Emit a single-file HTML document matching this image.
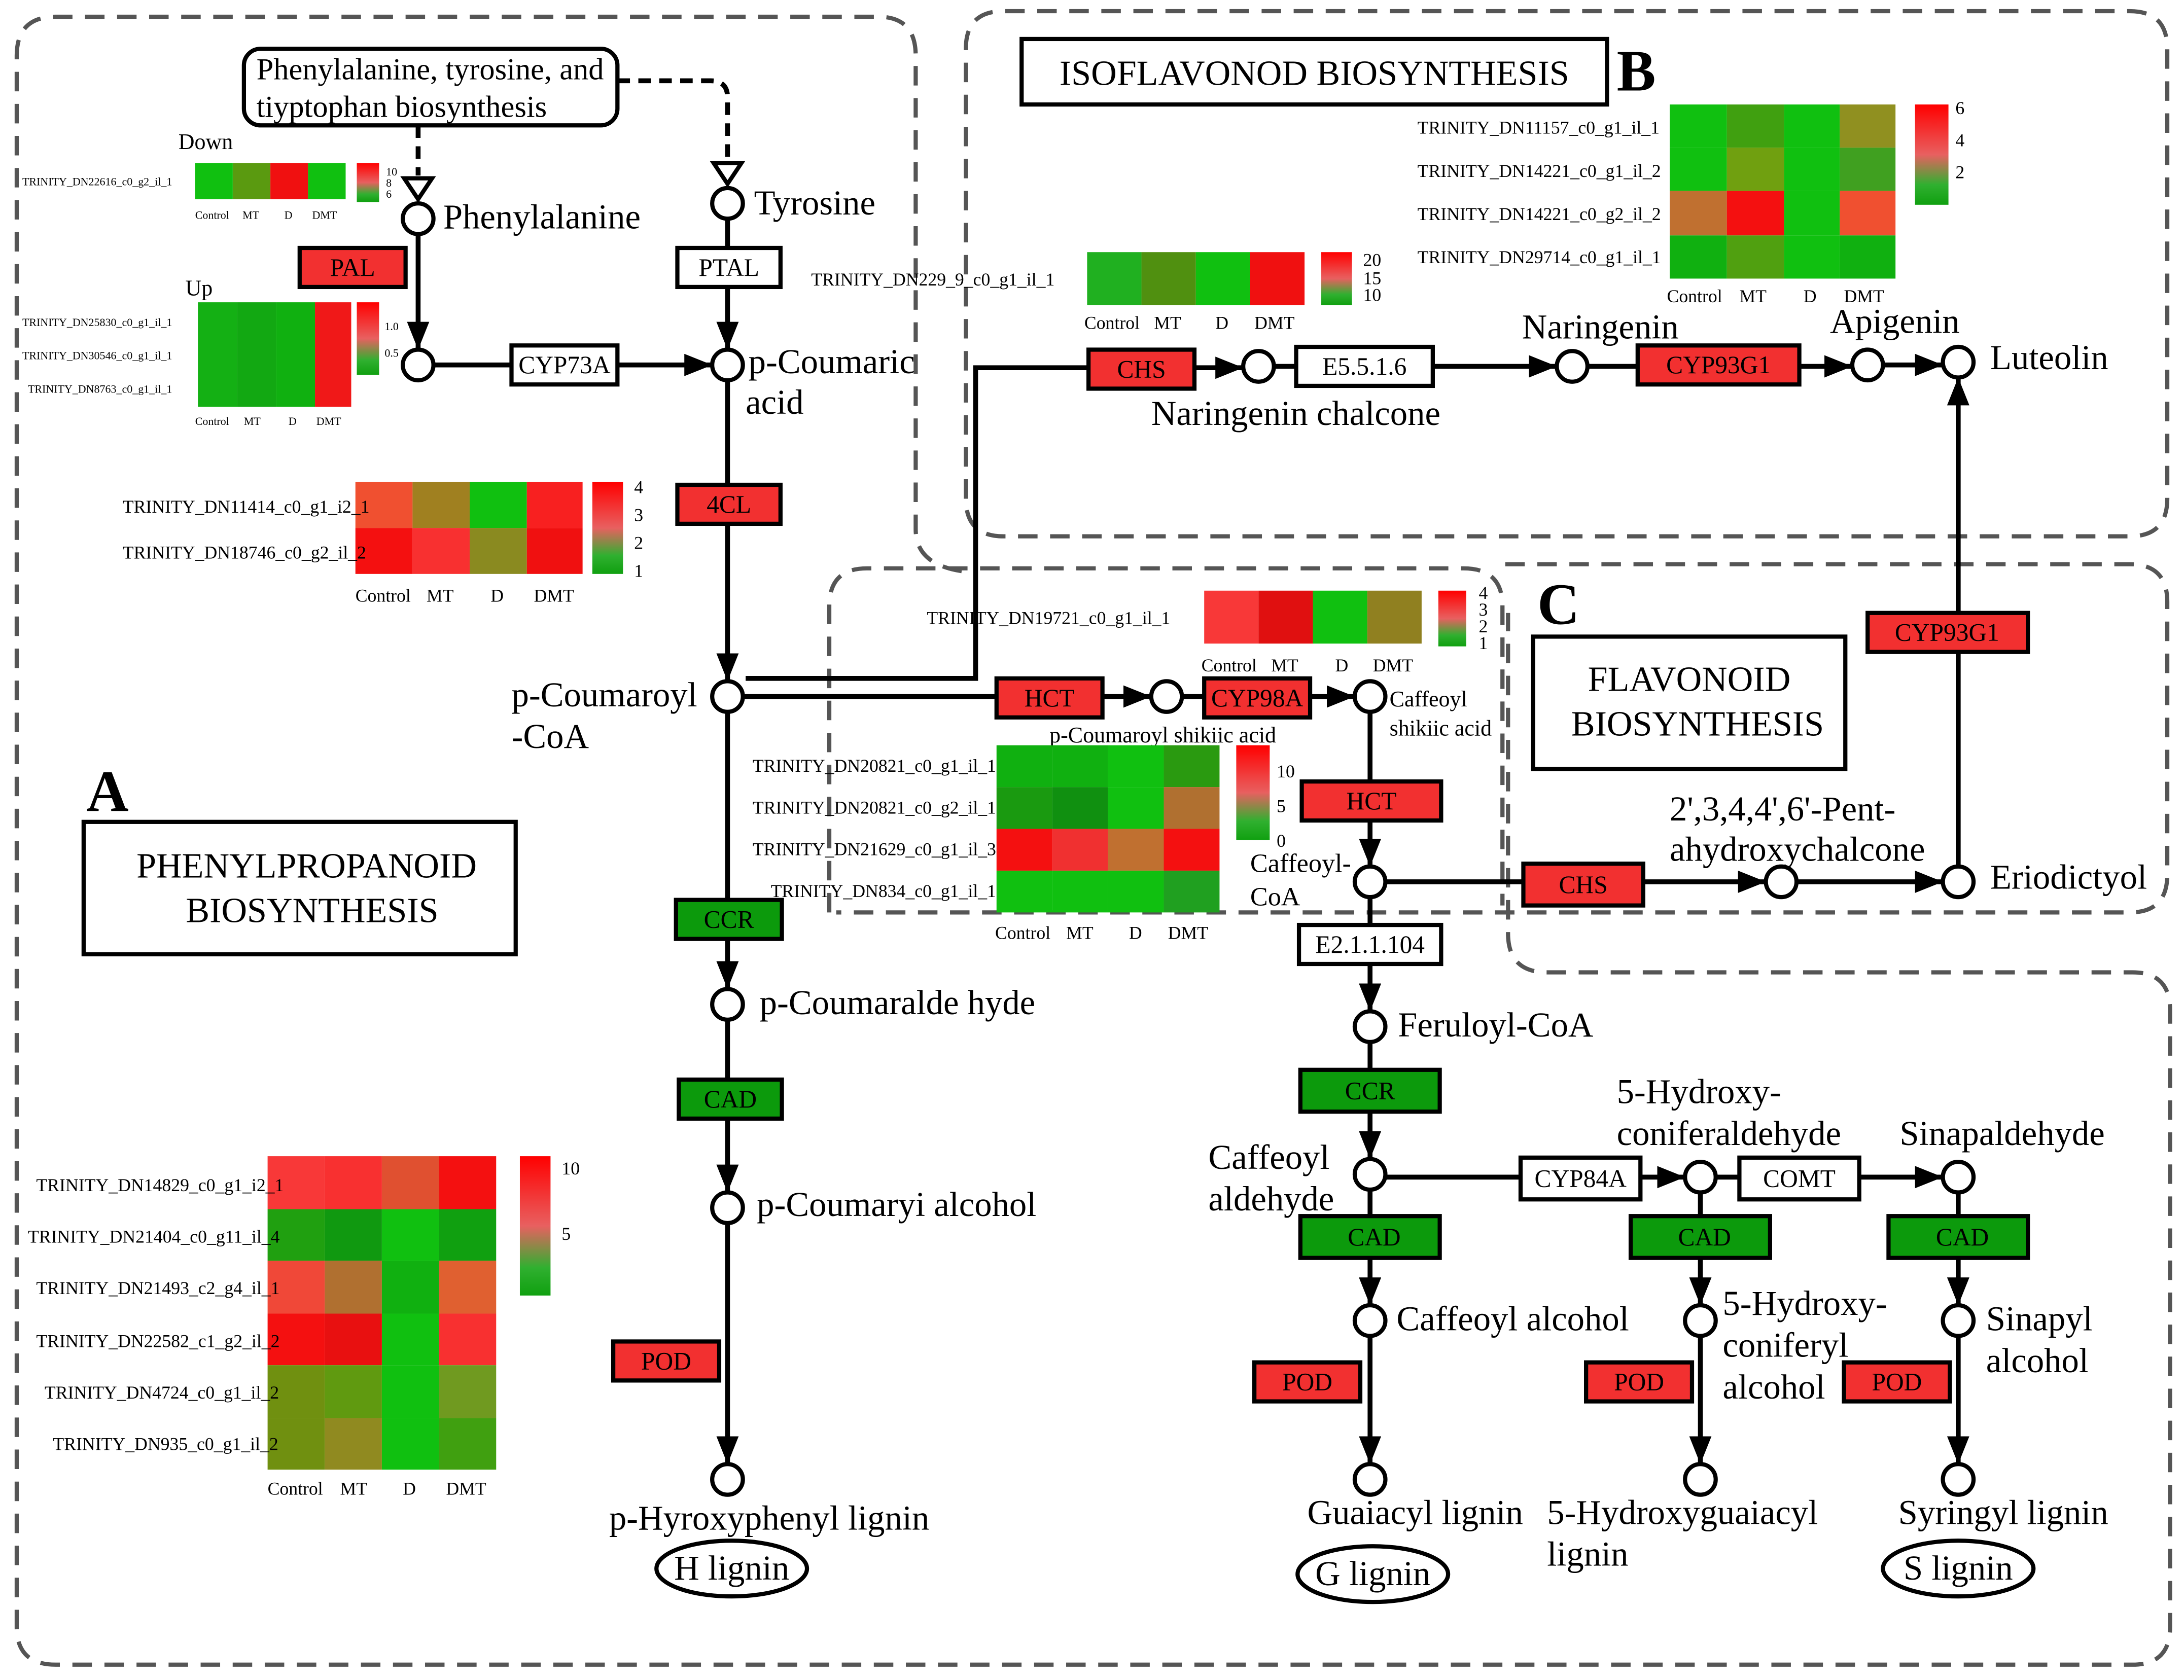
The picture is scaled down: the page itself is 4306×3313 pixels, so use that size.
<!DOCTYPE html>
<html><head><meta charset="utf-8"><style>html,body{margin:0;padding:0;background:#fff}svg{display:block}</style></head><body>
<svg width="4306" height="3313" viewBox="0 0 1567 1206" preserveAspectRatio="none" xmlns="http://www.w3.org/2000/svg" font-family="Liberation Serif, serif">
<defs>
<marker id="ar" markerWidth="20" markerHeight="16" refX="20" refY="8" orient="auto" markerUnits="userSpaceOnUse" viewBox="0 0 20 16"><path d="M0,0 L20,8 L0,16 z" fill="#000"/></marker>
<linearGradient id="cb" x1="0" y1="0" x2="0" y2="1"><stop offset="0" stop-color="#ff0000"/><stop offset="0.5" stop-color="#e86060"/><stop offset="0.8" stop-color="#30b030"/><stop offset="1" stop-color="#10a010"/></linearGradient>
</defs>
<g fill="none" stroke="#555" stroke-width="3" stroke-dasharray="14,9">
<path d="M690,410 Q657,405 657,380 V40 Q657,12 630,12 H40 Q12,12 12,40 V1168 Q12,1195 40,1195 H1530 Q1557,1195 1557,1168 V725 Q1557,698 1530,698 H1110 Q1082,698 1082,670 V440"/>
<path d="M693,358 V35 Q693,8 720,8 H1528 Q1555,8 1555,35 V358 Q1555,385 1528,385 H720 Q693,385 693,358"/>
<path d="M595,655 V435 Q595,408 622,408 H1050 Q1078,408 1078,435 V650"/>
<path d="M1080,405 H1528 Q1555,405 1555,432 V628 Q1555,655 1528,655 H600"/>
</g>
<g stroke="#000" stroke-width="3.5" fill="none">
<path d="M300,90 V126" stroke-dasharray="9,6"/>
<path d="M443,58 H510 Q522,58 522,70 V116" stroke-dasharray="9,6"/>
<path d="M300,168 V251" marker-end="url(#ar)"/>
<path d="M311,262 H511" marker-end="url(#ar)"/>
<path d="M522,157 V251" marker-end="url(#ar)"/>
<path d="M522,273 V489" marker-end="url(#ar)"/>
<path d="M522,511 V710" marker-end="url(#ar)"/>
<path d="M522,732 V856" marker-end="url(#ar)"/>
<path d="M522,878 V1051" marker-end="url(#ar)"/>
<path d="M533,500 H826" marker-end="url(#ar)"/>
<path d="M848,500 H972" marker-end="url(#ar)"/>
<path d="M535,487 H700 V264 H892" marker-end="url(#ar)"/>
<path d="M914,263 H1117" marker-end="url(#ar)"/>
<path d="M1139,263 H1329" marker-end="url(#ar)"/>
<path d="M1351,262 H1394" marker-end="url(#ar)"/>
<path d="M983,511 V622" marker-end="url(#ar)"/>
<path d="M994,633 H1267" marker-end="url(#ar)"/>
<path d="M1289,633 H1394" marker-end="url(#ar)"/>
<path d="M1405,621 V271" marker-end="url(#ar)"/>
<path d="M983,645 V726" marker-end="url(#ar)"/>
<path d="M983,749 V832" marker-end="url(#ar)"/>
<path d="M994,845 H1209" marker-end="url(#ar)"/>
<path d="M1231,845 H1394" marker-end="url(#ar)"/>
<path d="M983,855 V937" marker-end="url(#ar)"/>
<path d="M1220,857 V937" marker-end="url(#ar)"/>
<path d="M1405,857 V937" marker-end="url(#ar)"/>
<path d="M983,960 V1051" marker-end="url(#ar)"/>
<path d="M1220,960 V1051" marker-end="url(#ar)"/>
<path d="M1405,960 V1051" marker-end="url(#ar)"/>
</g>
<g fill="#fff" stroke="#000" stroke-width="3">
<path d="M290,128 H310 L300,143 z"/><path d="M512,117 H532 L522,132 z"/>
<circle cx="300" cy="157" r="11"/><circle cx="522" cy="146" r="11"/><circle cx="300" cy="262" r="11"/><circle cx="522" cy="262" r="11"/>
<circle cx="522" cy="500" r="11"/><circle cx="837" cy="500" r="11"/><circle cx="983" cy="500" r="11"/><circle cx="983" cy="633" r="11"/>
<circle cx="983" cy="737" r="11"/><circle cx="983" cy="843" r="11"/><circle cx="983" cy="948" r="11"/><circle cx="983" cy="1062" r="11"/>
<circle cx="1220" cy="845" r="11"/><circle cx="1220" cy="948" r="11"/><circle cx="1220" cy="1062" r="11"/>
<circle cx="1405" cy="845" r="11"/><circle cx="1405" cy="948" r="11"/><circle cx="1405" cy="1062" r="11"/>
<circle cx="522" cy="721" r="11"/><circle cx="522" cy="867" r="11"/><circle cx="522" cy="1062" r="11"/>
<circle cx="903" cy="263" r="11"/><circle cx="1128" cy="263" r="11"/><circle cx="1340" cy="262" r="11"/><circle cx="1405" cy="260" r="11"/>
<circle cx="1278" cy="633" r="11"/><circle cx="1405" cy="633" r="11"/>
<rect x="175" y="35" width="268" height="55" rx="12"/>
<rect x="367" y="248" width="76" height="28"/><rect x="486" y="178" width="74" height="28"/>
<rect x="930" y="249" width="98" height="28"/><rect x="932" y="664" width="102" height="28"/>
<rect x="1091" y="831" width="86" height="30"/><rect x="1248" y="831" width="86" height="30"/>
<rect x="733" y="28" width="420" height="47"/><rect x="1100" y="457" width="224" height="95"/><rect x="60" y="590" width="310" height="95"/>
<ellipse cx="525" cy="1126" rx="54" ry="20"/><ellipse cx="985" cy="1130" rx="54" ry="20"/><ellipse cx="1405" cy="1126" rx="54" ry="20"/>
</g>
<g fill="#f23030" stroke="#000" stroke-width="3">
<rect x="215" y="178" width="76" height="28"/><rect x="486" y="348" width="74" height="28"/><rect x="440" y="963" width="76" height="28"/>
<rect x="715" y="487" width="76" height="28"/><rect x="864" y="487" width="76" height="28"/><rect x="781" y="251" width="76" height="28"/>
<rect x="1175" y="248" width="116" height="28"/><rect x="934" y="561" width="100" height="28"/><rect x="1093" y="620" width="86" height="30"/>
<rect x="1340" y="440" width="115" height="28"/><rect x="900" y="978" width="76" height="28"/><rect x="1138" y="978" width="76" height="28"/><rect x="1323" y="978" width="76" height="28"/>
</g>
<g fill="#0c9a0c" stroke="#000" stroke-width="3">
<rect x="485" y="646" width="76" height="28"/><rect x="487" y="775" width="74" height="28"/><rect x="933" y="768" width="100" height="30"/>
<rect x="933" y="873" width="100" height="30"/><rect x="1170" y="873" width="100" height="30"/><rect x="1355" y="873" width="100" height="30"/>
</g>
<g font-size="18" text-anchor="middle">
<text x="253" y="198">PAL</text><text x="405" y="268">CYP73A</text><text x="523" y="198">PTAL</text><text x="523" y="368">4CL</text>
<text x="523" y="666">CCR</text><text x="524" y="795">CAD</text><text x="478" y="983">POD</text><text x="753" y="507">HCT</text><text x="902" y="507">CYP98A</text>
<text x="819" y="271">CHS</text><text x="979" y="269">E5.5.1.6</text><text x="1233" y="268">CYP93G1</text><text x="984" y="581">HCT</text><text x="1136" y="641">CHS</text>
<text x="1397" y="460">CYP93G1</text><text x="983" y="684">E2.1.1.104</text><text x="983" y="789">CCR</text><text x="1134" y="852">CYP84A</text><text x="1291" y="852">COMT</text>
<text x="986" y="894">CAD</text><text x="1223" y="894">CAD</text><text x="1408" y="894">CAD</text><text x="938" y="998">POD</text><text x="1176" y="998">POD</text><text x="1361" y="998">POD</text>
</g>
<g font-size="22">
<text x="184" y="57">Phenylalanine, tyrosine, and</text><text x="184" y="84">tiyptophan biosynthesis</text>
</g>
<g font-size="25">
<text x="318" y="164">Phenylalanine</text><text x="541" y="154">Tyrosine</text><text x="537" y="268">p-Coumaric</text><text x="535" y="297">acid</text>
<text x="367" y="507">p-Coumaroyl</text><text x="367" y="537">-CoA</text><text x="545" y="728">p-Coumaralde hyde</text><text x="543" y="873">p-Coumaryi alcohol</text>
<text x="437" y="1098">p-Hyroxyphenyl lignin</text><text x="525" y="1134" text-anchor="middle">H lignin</text>
<text x="826" y="305">Naringenin chalcone</text><text x="1092" y="243">Naringenin</text><text x="1313" y="239">Apigenin</text><text x="1428" y="265">Luteolin</text>
<text x="1198" y="589">2',3,4,4',6'-Pent-</text><text x="1198" y="618">ahydroxychalcone</text><text x="1428" y="638">Eriodictyol</text>
<text x="1003" y="744">Feruloyl-CoA</text><text x="867" y="839">Caffeoyl</text><text x="867" y="869">aldehyde</text>
<text x="1160" y="792">5-Hydroxy-</text><text x="1160" y="822">coniferaldehyde</text><text x="1363" y="822">Sinapaldehyde</text>
<text x="1002" y="955">Caffeoyl alcohol</text><text x="1236" y="944">5-Hydroxy-</text><text x="1236" y="974">coniferyl</text><text x="1236" y="1004">alcohol</text>
<text x="1425" y="955">Sinapyl</text><text x="1425" y="985">alcohol</text>
<text x="938" y="1094">Guaiacyl lignin</text><text x="1110" y="1094">5-Hydroxyguaiacyl</text><text x="1110" y="1124">lignin</text><text x="1362" y="1094">Syringyl lignin</text>
<text x="985" y="1138" text-anchor="middle">G lignin</text><text x="1405" y="1134" text-anchor="middle">S lignin</text>
</g>
<g font-size="19"><text x="897" y="626">Caffeoyl-</text><text x="897" y="650">CoA</text></g>
<g font-size="25.5" text-anchor="middle">
<text x="943" y="61">ISOFLAVONOD BIOSYNTHESIS</text>
<text x="1212" y="496">FLAVONOID</text><text x="1218" y="528">BIOSYNTHESIS</text>
<text x="220" y="630">PHENYLPROPANOID</text><text x="224" y="662">BIOSYNTHESIS</text>
</g>
<g font-size="16"><text x="997" y="507">Caffeoyl</text><text x="997" y="528">shikiic acid</text><text x="753" y="533">p-Coumaroyl shikiic acid</text><text x="128" y="107">Down</text><text x="133" y="212">Up</text></g>
<g font-size="42" font-weight="bold"><text x="62" y="582">A</text><text x="1160" y="65">B</text><text x="1103" y="448">C</text></g>
<g>
<rect x="140" y="117" width="27" height="26" fill="#10c010"/><rect x="167" y="117" width="27" height="26" fill="#5a9a10"/><rect x="194" y="117" width="27" height="26" fill="#f01010"/><rect x="221" y="117" width="27" height="26" fill="#10c010"/>
<rect x="256" y="117" width="16" height="28" fill="url(#cb)"/>
<rect x="142" y="217" width="28" height="75" fill="#14b014"/><rect x="170" y="217" width="28" height="75" fill="#12a812"/><rect x="198" y="217" width="28" height="75" fill="#10b010"/><rect x="226" y="217" width="26" height="75" fill="#f01818"/>
<rect x="256" y="217" width="16" height="52" fill="url(#cb)"/>
<rect x="255" y="346" width="41" height="33" fill="#f05030"/><rect x="296" y="346" width="41" height="33" fill="#a08020"/><rect x="337" y="346" width="41" height="33" fill="#10c010"/><rect x="378" y="346" width="40" height="33" fill="#f82020"/>
<rect x="255" y="379" width="41" height="33" fill="#f41010"/><rect x="296" y="379" width="41" height="33" fill="#f83030"/><rect x="337" y="379" width="41" height="33" fill="#8a8a20"/><rect x="378" y="379" width="40" height="33" fill="#f01010"/>
<rect x="425" y="346" width="22" height="66" fill="url(#cb)"/>
<rect x="780" y="181" width="39" height="38" fill="#20b020"/><rect x="819" y="181" width="39" height="38" fill="#509010"/><rect x="858" y="181" width="39" height="38" fill="#10c010"/><rect x="897" y="181" width="39" height="38" fill="#f01010"/>
<rect x="948" y="181" width="22" height="38" fill="url(#cb)"/>
<rect x="1198" y="75" width="41" height="31" fill="#10c010"/><rect x="1239" y="75" width="41" height="31" fill="#40a010"/><rect x="1280" y="75" width="40" height="31" fill="#10c010"/><rect x="1320" y="75" width="40" height="31" fill="#909020"/>
<rect x="1198" y="106" width="41" height="31" fill="#10c010"/><rect x="1239" y="106" width="41" height="31" fill="#70a010"/><rect x="1280" y="106" width="40" height="31" fill="#10c010"/><rect x="1320" y="106" width="40" height="31" fill="#40a020"/>
<rect x="1198" y="137" width="41" height="32" fill="#c07030"/><rect x="1239" y="137" width="41" height="32" fill="#f41010"/><rect x="1280" y="137" width="40" height="32" fill="#10c010"/><rect x="1320" y="137" width="40" height="32" fill="#f05030"/>
<rect x="1198" y="169" width="41" height="31" fill="#10b010"/><rect x="1239" y="169" width="41" height="31" fill="#50a010"/><rect x="1280" y="169" width="40" height="31" fill="#10c010"/><rect x="1320" y="169" width="40" height="31" fill="#10b010"/>
<rect x="1374" y="75" width="24" height="72" fill="url(#cb)"/>
<rect x="864" y="424" width="39" height="38" fill="#f83838"/><rect x="903" y="424" width="39" height="38" fill="#e01010"/><rect x="942" y="424" width="39" height="38" fill="#10c010"/><rect x="981" y="424" width="39" height="38" fill="#908020"/>
<rect x="1032" y="424" width="20" height="40" fill="url(#cb)"/>
<rect x="715" y="535" width="40" height="30" fill="#10b010"/><rect x="755" y="535" width="40" height="30" fill="#10b010"/><rect x="795" y="535" width="40" height="30" fill="#10c010"/><rect x="835" y="535" width="40" height="30" fill="#2a9a10"/>
<rect x="715" y="565" width="40" height="30" fill="#1a9a10"/><rect x="755" y="565" width="40" height="30" fill="#109010"/><rect x="795" y="565" width="40" height="30" fill="#10c010"/><rect x="835" y="565" width="40" height="30" fill="#b07030"/>
<rect x="715" y="595" width="40" height="30" fill="#f41010"/><rect x="755" y="595" width="40" height="30" fill="#f03030"/><rect x="795" y="595" width="40" height="30" fill="#c07030"/><rect x="835" y="595" width="40" height="30" fill="#f41010"/>
<rect x="715" y="625" width="40" height="30" fill="#10c010"/><rect x="755" y="625" width="40" height="30" fill="#10c010"/><rect x="795" y="625" width="40" height="30" fill="#10c010"/><rect x="835" y="625" width="40" height="30" fill="#20a020"/>
<rect x="887" y="535" width="24" height="68" fill="url(#cb)"/>
<rect x="192" y="830" width="41" height="38" fill="#f83838"/><rect x="233" y="830" width="41" height="38" fill="#f83030"/><rect x="274" y="830" width="41" height="38" fill="#e05030"/><rect x="315" y="830" width="41" height="38" fill="#f41010"/>
<rect x="192" y="868" width="41" height="37" fill="#20a010"/><rect x="233" y="868" width="41" height="37" fill="#109910"/><rect x="274" y="868" width="41" height="37" fill="#10c010"/><rect x="315" y="868" width="41" height="37" fill="#10a010"/>
<rect x="192" y="905" width="41" height="38" fill="#f04838"/><rect x="233" y="905" width="41" height="38" fill="#b07030"/><rect x="274" y="905" width="41" height="38" fill="#10b010"/><rect x="315" y="905" width="41" height="38" fill="#e06030"/>
<rect x="192" y="943" width="41" height="37" fill="#f41010"/><rect x="233" y="943" width="41" height="37" fill="#e81010"/><rect x="274" y="943" width="41" height="37" fill="#10c010"/><rect x="315" y="943" width="41" height="37" fill="#f83030"/>
<rect x="192" y="980" width="41" height="38" fill="#709010"/><rect x="233" y="980" width="41" height="38" fill="#609a10"/><rect x="274" y="980" width="41" height="38" fill="#10c010"/><rect x="315" y="980" width="41" height="38" fill="#709a20"/>
<rect x="192" y="1018" width="41" height="37" fill="#709010"/><rect x="233" y="1018" width="41" height="37" fill="#908a20"/><rect x="274" y="1018" width="41" height="37" fill="#10c010"/><rect x="315" y="1018" width="41" height="37" fill="#40a010"/>
<rect x="373" y="830" width="22" height="100" fill="url(#cb)"/>
</g>
<g font-size="13">
<text x="88" y="368">TRINITY_DN11414_c0_g1_i2_1</text><text x="88" y="401">TRINITY_DN18746_c0_g2_il_2</text>
<text x="255" y="432">Control</text><text x="306" y="432">MT</text><text x="352" y="432">D</text><text x="383" y="432">DMT</text>
<text x="455" y="354">4</text><text x="455" y="374">3</text><text x="455" y="394">2</text><text x="455" y="414">1</text>
<text x="582" y="205">TRINITY_DN229_9_c0_g1_il_1</text><text x="778" y="236">Control</text><text x="828" y="236">MT</text><text x="872" y="236">D</text><text x="900" y="236">DMT</text>
<text x="978" y="191">20</text><text x="978" y="204">15</text><text x="978" y="216">10</text>
<text x="1017" y="96">TRINITY_DN11157_c0_g1_il_1</text><text x="1017" y="127">TRINITY_DN14221_c0_g1_il_2</text><text x="1017" y="158">TRINITY_DN14221_c0_g2_il_2</text><text x="1017" y="189">TRINITY_DN29714_c0_g1_il_1</text>
<text x="1196" y="217">Control</text><text x="1248" y="217">MT</text><text x="1294" y="217">D</text><text x="1323" y="217">DMT</text>
<text x="1403" y="82">6</text><text x="1403" y="105">4</text><text x="1403" y="128">2</text>
<text x="665" y="448">TRINITY_DN19721_c0_g1_il_1</text><text x="862" y="482">Control</text><text x="912" y="482">MT</text><text x="958" y="482">D</text><text x="985" y="482">DMT</text>
<text x="1061" y="430">4</text><text x="1061" y="442">3</text><text x="1061" y="454">2</text><text x="1061" y="466">1</text>
<text x="540" y="554">TRINITY_DN20821_c0_g1_il_1</text><text x="540" y="584">TRINITY_DN20821_c0_g2_il_1</text><text x="540" y="614">TRINITY_DN21629_c0_g1_il_3</text><text x="553" y="644">TRINITY_DN834_c0_g1_il_1</text>
<text x="714" y="674">Control</text><text x="765" y="674">MT</text><text x="810" y="674">D</text><text x="838" y="674">DMT</text>
<text x="916" y="558">10</text><text x="916" y="583">5</text><text x="916" y="608">0</text>
<text x="26" y="855">TRINITY_DN14829_c0_g1_i2_1</text><text x="20" y="892">TRINITY_DN21404_c0_g11_il_4</text><text x="26" y="929">TRINITY_DN21493_c2_g4_il_1</text>
<text x="26" y="967">TRINITY_DN22582_c1_g2_il_2</text><text x="32" y="1004">TRINITY_DN4724_c0_g1_il_2</text><text x="38" y="1041">TRINITY_DN935_c0_g1_il_2</text>
<text x="192" y="1073">Control</text><text x="244" y="1073">MT</text><text x="289" y="1073">D</text><text x="320" y="1073">DMT</text>
<text x="403" y="843">10</text><text x="403" y="890">5</text>
</g>
<g font-size="8">
<text x="16" y="133">TRINITY_DN22616_c0_g2_il_1</text><text x="140" y="157">Control</text><text x="174" y="157">MT</text><text x="204" y="157">D</text><text x="224" y="157">DMT</text>
<text x="277" y="126">10</text><text x="277" y="134">8</text><text x="277" y="142">6</text>
<text x="16" y="234">TRINITY_DN25830_c0_g1_il_1</text><text x="16" y="258">TRINITY_DN30546_c0_g1_il_1</text><text x="20" y="282">TRINITY_DN8763_c0_g1_il_1</text>
<text x="140" y="305">Control</text><text x="175" y="305">MT</text><text x="207" y="305">D</text><text x="227" y="305">DMT</text>
<text x="276" y="237">1.0</text><text x="276" y="256">0.5</text>
</g>
</svg>
</body></html>
